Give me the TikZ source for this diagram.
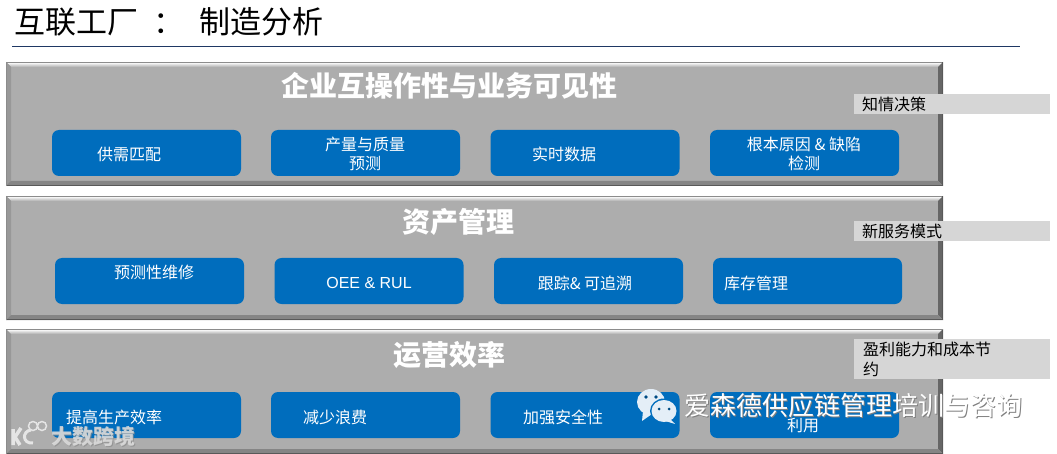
\documentclass[tikz,border=0pt]{standalone}
\usepackage{fontspec}
\setmainfont{Noto Sans CJK SC}
\newfontfamily\latinfont{Liberation Sans}
\usepackage{xcolor}
\usepackage{tikz}
\usetikzlibrary{positioning}
\definecolor{panelface}{HTML}{ADADAD}
\definecolor{boxblue}{HTML}{006DBD}
\definecolor{tagfill}{HTML}{D6D6D6}
\definecolor{rulenavy}{HTML}{1F3864}
\definecolor{iconfill}{HTML}{E4EEF7}
\definecolor{bevelleft}{HTML}{989898}
\definecolor{bevelright}{HTML}{666666}
\definecolor{bevelbottom}{HTML}{858585}
\tikzset{
    bluebox/.style={fill=boxblue, rounded corners=7pt, minimum width=189pt, minimum height=46pt, inner sep=0pt},
    boxtext/.style={text=white, align=center, inner sep=0pt, font=\fontsize{16}{19.5}\selectfont},
    paneltitle/.style={text=white, inner sep=0pt, font=\fontsize{28}{30}\selectfont\bfseries},
    sidetag/.style={fill=tagfill, minimum width=196pt, inner sep=0pt},
    tagtext/.style={text=black, align=left, inner sep=0pt, font=\fontsize{16}{20}\selectfont},
    marktext/.style={inner sep=0pt, font=\fontsize{26}{28}\selectfont}
}
\begin{document}
\begin{tikzpicture}[x=1pt, y=-1pt]
    \useasboundingbox (0,0) rectangle (1057,454);
    % 页面标题
    \node[inner sep=0pt, font=\fontsize{31}{32}\selectfont] (pagetitle) at (169,22) {互联工厂\hspace{15pt}：\hspace{15pt}制造分析};
    \coordinate (ruleL) at (12,46.5);
    \coordinate (ruleR) at (1020,46.5);
    \draw[rulenavy, line width=1pt] (ruleL) -- (ruleR);

    % 三层斜面底板
    \foreach \ptop/\pbot in {62/186, 196/320, 329/454} {
        \fill[panelface] (6,\ptop) rectangle (943,\pbot);
        \shade[top color=white!92!gray, bottom color=panelface] (7,\ptop+1) -- (942,\ptop+1) -- (938,\ptop+5) -- (11,\ptop+5) -- cycle;
        \fill[bevelleft] (6,\ptop) -- (11,\ptop+5) -- (11,\pbot-5) -- (6,\pbot) -- cycle;
        \fill[bevelright] (943,\ptop) -- (938,\ptop+5) -- (938,\pbot-5) -- (943,\pbot) -- cycle;
        \fill[bevelbottom] (6,\pbot) -- (11,\pbot-5) -- (938,\pbot-5) -- (943,\pbot) -- cycle;
        \draw[black!45, line width=1pt] (6.5,\ptop+.5) rectangle (942.5,\pbot-.5);
        \draw[black!65, line width=1pt] (942.5,\ptop+.5) -- (942.5,\pbot-.5) -- (6.5,\pbot-.5);
    }

    % 底板标题
    \node[paneltitle] (title1) at (449.5,86) {企业互操作性与业务可见性};
    \node[paneltitle] (title2) at (458,222) {资产管理};
    \node[paneltitle] (title3) at (449,355) {运营效率};

    % 第一行
    \node[bluebox] (box11) at (146.5,153) {};
    \node[bluebox] (box12) at (365.5,153) {};
    \node[bluebox] (box13) at (585,153) {};
    \node[bluebox] (box14) at (804.5,153) {};
    \node[boxtext] (text11) at (129,154) {供需匹配};
    \node[boxtext] (text12) at (365,154) {产量与质量\\预测};
    \node[boxtext] (text13) at (564,154) {实时数据};
    \node[boxtext] (text14) at (804,154) {根本原因 \& 缺陷\\检测};

    % 第二行
    \node[bluebox] (box21) at (149.5,281) {};
    \node[bluebox] (box22) at (369,281) {};
    \node[bluebox] (box23) at (588.5,281) {};
    \node[bluebox] (box24) at (807.5,281) {};
    \node[boxtext] (text21) at (154,272) {预测性维修};
    \node[boxtext, font=\fontsize{16}{19}\selectfont\latinfont] (text22) at (369,283) {OEE \& RUL};
    \node[boxtext] (text23) at (585,283) {跟踪\& 可追溯};
    \node[boxtext] (text24) at (756,283) {库存管理};

    % 第三行
    \node[bluebox] (box31) at (146.5,415) {};
    \node[bluebox] (box32) at (365.5,415) {};
    \node[bluebox] (box33) at (585,415) {};
    \node[bluebox] (box34) at (804.5,415) {};
    \node[boxtext] (text31) at (114,417) {提高生产效率};
    \node[boxtext] (text32) at (335,417) {减少浪费};
    \node[boxtext] (text33) at (563,417) {加强安全性};
    \node[boxtext] (text34) at (803,426) {利用};

    % 右侧标签
    \node[sidetag, minimum height=20pt] (tag1) at (952,104) {};
    \node[sidetag, minimum height=20pt] (tag2) at (952,231) {};
    \node[sidetag, minimum height=40pt] (tag3) at (952,359) {};
    \node[tagtext, anchor=west] (tagtext1) at (862,104) {知情决策};
    \node[tagtext, anchor=west] (tagtext2) at (862,231) {新服务模式};
    \node[tagtext, anchor=west] (tagtext3) at (863,359) {盈利能力和成本节\\约};

    % 水印
    \fill[iconfill] (651,402) ellipse (14 and 13);
    \fill[iconfill] (643,411) -- (642,421) -- (652,414) -- cycle;
    \fill[boxblue] (664,411) ellipse (14 and 12.5);
    \fill[iconfill] (664,411) ellipse (12.5 and 11);
    \fill[iconfill] (669,418) -- (675,424) -- (662,420) -- cycle;
    \fill[boxblue!70!black] (646,397) circle (1.8) (656,397) circle (1.8) (659,409) circle (1.5) (669,409) circle (1.5);
    \node[marktext, text=black!50] (markshadow) at (854.5,406.5) {爱森德供应链管理培训与咨询};
    \node[marktext, text=white] (marktext) at (853.5,405.5) {爱森德供应链管理培训与咨询};

    \draw[white!80!gray, line width=3.5pt] (13,429) -- (13,445) (21,428) -- (15,437) -- (20,445);
    \draw[white!80!gray, line width=3pt] (31,430) .. controls (22,431) and (22,444) .. (33,443);
    \draw[white!80!gray, line width=1.5pt] (33,426) circle (4.5) (42,426) circle (4.5);
    \node[inner sep=0pt, text=black!45, opacity=0.7, font=\fontsize{21}{23}\selectfont\bfseries] (logoshadow) at (94,437) {大数跨境};
    \node[inner sep=0pt, text=white!75!gray, opacity=0.85, font=\fontsize{21}{23}\selectfont\bfseries] (logotext) at (93,436) {大数跨境};
\end{tikzpicture}
\end{document}
